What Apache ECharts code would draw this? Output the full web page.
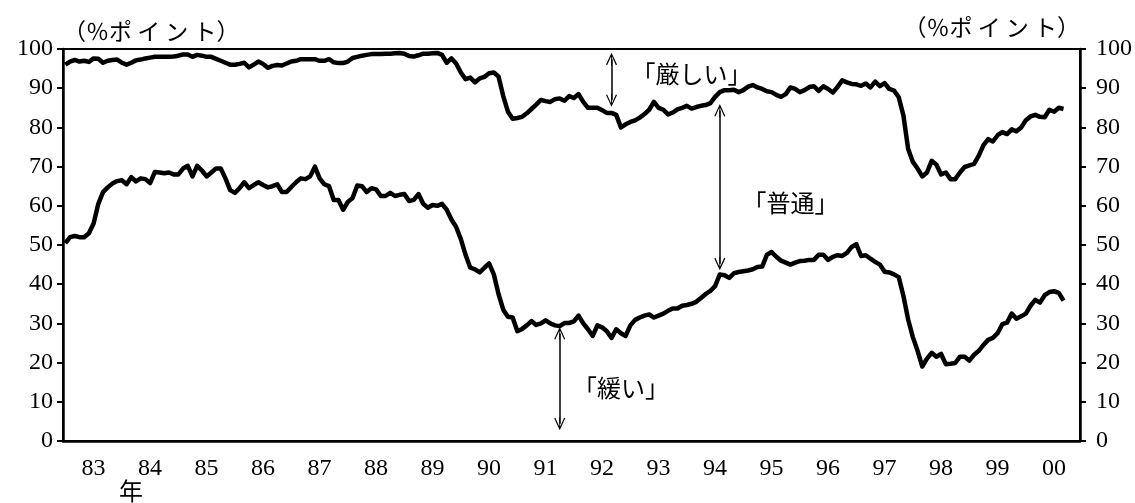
<!DOCTYPE html>
<html>
<head>
<meta charset="utf-8">
<script src="https://cdn.jsdelivr.net/npm/echarts@6/dist/echarts.min.js"></script>
<style>
  html, body { margin: 0; padding: 0; background: #fff; }
  #chart { width: 1135px; height: 503px; }
</style>
</head>
<body>
<div id="chart"></div>
<script>
// 年ラベル (83〜00)
const yearLabels = ['83', '84', '85', '86', '87', '88', '89', '90', '91',
  '92', '93', '94', '95', '96', '97', '98', '99', '00'];
const yTicks = [0, 10, 20, 30, 40, 50, 60, 70, 80, 90, 100];

// 上の線 (100 - 「厳しい」), 月次
const upperLine = [
  96, 96.8, 97.2, 96.8, 97, 96.7, 97.6, 97.5, 96.5, 97, 97.2, 97.3,
  96.5, 96, 96.5, 97.1, 97.3, 97.6, 97.8, 98, 98, 98, 98, 98.1,
  98.3, 98.6, 98.6, 98, 98.5, 98.3, 98, 98, 97.5, 97, 96.5, 96,
  96, 96.2, 96.5, 95.3, 96, 96.8, 96.2, 95.2, 95.7, 95.9, 95.8, 96.3,
  96.8, 97, 97.4, 97.4, 97.4, 97.4, 97, 97, 97.4, 96.6, 96.4, 96.4,
  96.8, 97.7, 98, 98.3, 98.5, 98.7, 98.7, 98.7, 98.8, 98.8, 98.9, 99,
  98.8, 98.2, 98.1, 98.4, 98.8, 98.8, 98.9, 99, 98.5, 96.5, 97.6, 96.3,
  94, 92.3, 92.7, 91.5, 92.5, 92.9, 93.8, 94, 93, 88, 84, 82.2,
  82.4, 82.7, 83.6, 84.7, 85.8, 87, 86.7, 86.5, 87.2, 87.4, 86.8, 88,
  87.5, 88.5, 86.5, 85, 85, 85, 84.4, 83.7, 83.7, 83.2, 80, 80.8,
  81.4, 81.8, 82.5, 83.4, 84.5, 86.5, 85, 84.5, 83.3, 83.8, 84.6, 85,
  85.5, 84.8, 85.2, 85.5, 85.7, 86.2, 87.8, 89, 89.5, 89.5, 89.6, 89,
  89.5, 90.4, 90.8, 90.2, 89.8, 89.2, 89, 88.3, 87.8, 88.5, 90.2, 89.8,
  89, 89.5, 90.3, 90.5, 89.3, 90.5, 89.8, 88.9, 90.3, 92, 91.5, 91.1,
  91, 90.6, 91.2, 90.2, 91.7, 90.5, 91.3, 89.8, 89.4, 87.7, 83, 74.5,
  71.2, 69.5, 67.5, 68.5, 71.5, 70.5, 68, 68.5, 66.8, 66.8, 68.5, 69.9,
  70.3, 70.7, 72.8, 75.5, 77, 76.4, 78, 78.8, 78.3, 79.5, 79, 80,
  81.8, 82.8, 83.2, 82.7, 82.6, 84.5, 84, 85, 84.7
];

// 下の線 (「緩い」), 月次
const lowerLine = [
  50.5, 52, 52.3, 52, 52, 53, 55.5, 60.5, 63.5, 64.7, 65.7, 66.3,
  66.5, 65.5, 67.3, 66.2, 67, 66.8, 65.8, 68.6, 68.5, 68.3, 68.5, 68,
  68, 69.5, 70.2, 67.5, 70.2, 69, 67.5, 68.5, 69.5, 69.5, 67, 64,
  63.3, 64.5, 66, 64.5, 65.3, 66, 65.3, 64.7, 65, 65.5, 63.5, 63.5,
  64.8, 66, 67, 66.8, 67.5, 70, 67, 65.5, 65, 61.5, 61.5, 59,
  61, 62, 65.2, 65, 63.5, 64.5, 64.2, 62.5, 62.5, 63.3, 62.5, 62.8,
  63, 61.2, 61.5, 63, 60.5, 59.5, 60.2, 60, 60.5, 59, 56.5, 54.6,
  51.5, 47.5, 44.2, 43.8, 43, 44.2, 45.3, 42.5, 37.5, 33.5, 31.7, 31.5,
  28, 28.6, 29.5, 30.6, 29.6, 30, 30.8, 30, 29.5, 29.3, 30.1, 30.1,
  30.5, 32, 30, 28.5, 26.8, 29.5, 29, 28, 26.3, 28.5, 27.5, 26.8,
  29.5, 30.9, 31.5, 32, 32.3, 31.5, 32, 32.5, 33.2, 33.8, 33.8, 34.5,
  34.7, 35, 35.5, 36.5, 37.5, 38.3, 39.5, 42.5, 42.3, 41.6, 42.8, 43.1,
  43.3, 43.5, 43.8, 44.4, 44.5, 47.5, 48.2, 47, 46, 45.5, 45, 45.5,
  45.9, 46, 46.2, 46.2, 47.5, 47.5, 46.2, 47, 47.4, 47.2, 48, 49.5,
  50.2, 47.2, 47.4, 46.5, 45.7, 45, 43.2, 43, 42.5, 41.8, 37, 31,
  26.5, 23, 19, 21, 22.5, 21.5, 22.2, 19.6, 19.7, 19.9, 21.5, 21.5,
  20.5, 22, 23, 24.5, 25.8, 26.3, 27.5, 29.8, 30.2, 32.5, 31.2, 31.8,
  32.5, 34.5, 36, 35.3, 37.2, 38, 38.2, 37.8, 35.8
];

// 月のカテゴリ (1983年1月〜2000年12月)
const categories = [];
yearLabels.forEach(function (y) {
  for (let m = 1; m <= 12; m++) categories.push(y + '-' + m);
});

// 矢印の先 (開いたV字 + 軸)
const arrowHead = 'path://M10,0 L20,22 L18,23 L10,5 L2,23 L0,22 Z M9.2,2 L10.8,2 L10.8,24 L9.2,24 Z';

var chartDom = document.getElementById('chart');
var myChart = echarts.init(chartDom);

const serifNum = 'Liberation Serif';
const jpFont = 'Noto Sans CJK JP';

function valueAxis(pos) {
  return {
    type: 'value',
    position: pos,
    min: yTicks[0],
    max: yTicks[yTicks.length - 1],
    interval: 10,
    name: '（％ポ イ ン ト）',
    nameLocation: 'end',
    nameGap: pos === 'left' ? 6 : 10,
    nameTextStyle: {
      color: '#000',
      fontFamily: jpFont,
      fontSize: 23,
      align: pos === 'left' ? 'left' : 'right'
    },
    axisLine: { show: true, lineStyle: { color: '#000', width: 2.5 } },
    axisTick: { show: true, length: 6, lineStyle: { color: '#000', width: 2 } },
    axisLabel: {
      color: '#000',
      fontFamily: serifNum,
      fontSize: 24,
      margin: pos === 'left' ? 10 : 16
    },
    splitLine: { show: false }
  };
}

var option = {
  animation: false,
  backgroundColor: '#fff',
  grid: {
    left: 63,
    right: 53,
    top: 49,
    bottom: 62,
    show: true,
    borderColor: '#000',
    borderWidth: 2
  },
  xAxis: {
    type: 'category',
    data: categories,
    boundaryGap: true,
    axisLine: { lineStyle: { color: '#000', width: 2.5 } },
    axisTick: {
      inside: true,
      length: 7,
      interval: function (i) { return i % 12 === 0; },
      lineStyle: { color: '#000', width: 2 }
    },
    axisLabel: {
      interval: function (i) { return i % 12 === 6; },
      formatter: function (v, i) { return yearLabels[Math.floor(i / 12)]; },
      color: '#000',
      fontFamily: serifNum,
      fontSize: 24,
      margin: 16
    },
    splitLine: { show: false }
  },
  yAxis: [valueAxis('left'), valueAxis('right')],
  series: [
    {
      name: 'upper',
      type: 'line',
      data: upperLine,
      showSymbol: false,
      symbol: 'none',
      lineStyle: { color: '#000', width: 4.5, join: 'round' },
      silent: true
    },
    {
      name: 'lower',
      type: 'line',
      data: lowerLine,
      showSymbol: false,
      symbol: 'none',
      lineStyle: { color: '#000', width: 4.5, join: 'round' },
      silent: true,
      markLine: {
        silent: true,
        symbol: [arrowHead, arrowHead],
        symbolSize: [11, 13],
        label: { show: false },
        lineStyle: { color: '#000', width: 1.5, type: 'solid' },
        emphasis: { disabled: true },
        data: [
          [{ coord: [116, 97.4] }, { coord: [116, 86.9] }],
          [{ coord: [139, 84.3] }, { coord: [139, 45.2] }],
          [{ coord: [105, 27.4] }, { coord: [105, 4.4] }]
        ]
      },
      markPoint: {
        silent: true,
        symbol: 'circle',
        symbolSize: 1,
        itemStyle: { color: 'rgba(0,0,0,0)' },
        label: {
          show: true,
          position: 'inside',
          formatter: '{b}',
          color: '#000',
          fontFamily: jpFont,
          fontSize: 24
        },
        data: [
          { name: '「厳しい」', coord: [133, 93.6] },
          { name: '「普通」', coord: [154, 60.7] },
          { name: '「緩い」', coord: [118, 13.5] }
        ]
      }
    }
  ],
  graphic: [
    {
      type: 'text',
      left: 119,
      top: 479,
      style: { text: '年', fill: '#000', font: '24px "Noto Sans CJK JP"' }
    }
  ]
};

option && myChart.setOption(option);
</script>
</body>
</html>
